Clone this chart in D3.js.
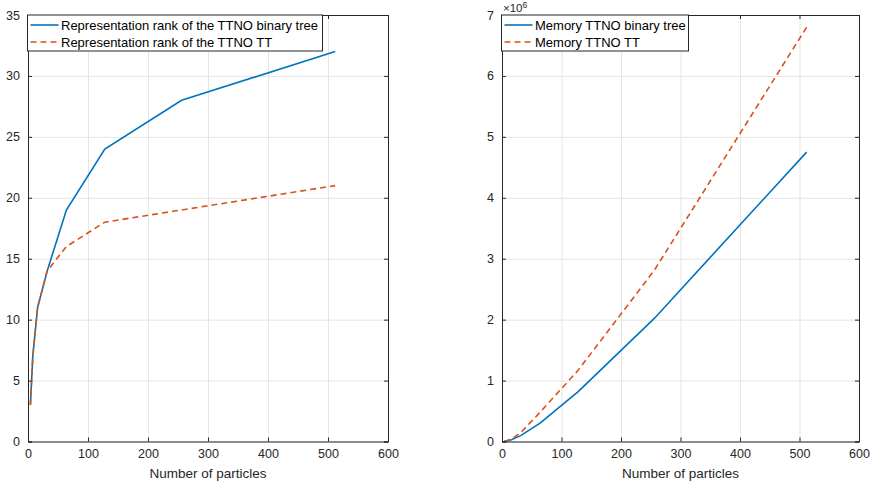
<!DOCTYPE html>
<html>
<head>
<meta charset="utf-8">
<script src="https://cdn.jsdelivr.net/npm/d3@7"></script>
<style>
  body { margin: 0; background: #fff; }
  svg { font-family: "Liberation Sans", Arial, sans-serif; }
</style>
</head>
<body>
<svg width="871" height="486"></svg>
<script>
// data
var particles = [4, 8, 16, 32, 64, 128, 256, 512];
var rankBinary = [3, 7, 11, 14, 19, 24, 28, 32];
var rankTT = [3, 7, 11, 14, 16, 18, 19, 21];
var memBinary = [0.003, 0.01, 0.03, 0.1, 0.3, 0.82, 2.02, 4.75];   // x 1e6
var memTT = [0.003, 0.012, 0.04, 0.15, 0.48, 1.17, 2.81, 6.8];    // x 1e6
var xTicks = [0, 100, 200, 300, 400, 500, 600];
var rankTicks = [0, 5, 10, 15, 20, 25, 30, 35];
var memTicks = [0, 1, 2, 3, 4, 5, 6, 7];
var legendLeft = ["Representation rank of the TTNO binary tree", "Representation rank of the TTNO TT"];
var legendRight = ["Memory TTNO binary tree", "Memory TTNO TT"];

var svg = d3.select("svg");
var blue = "#0072BD", orange = "#D95319", ink = "#262626";

function panel(left, right, yMax, yTicks, s1, s2, labels, exponent) {
  var top = 15, bottom = 441.5;
  var x = d3.scaleLinear().domain([0, 600]).range([left, right]);
  var y = d3.scaleLinear().domain([0, yMax]).range([bottom, top]);
  var g = svg.append("g");

  // grid
  g.append("g").attr("transform", "translate(0," + bottom + ")")
    .call(d3.axisBottom(x).tickValues(xTicks).tickSize(-(bottom - top)).tickFormat(""))
    .call(a => a.select(".domain").remove())
    .selectAll("line").attr("stroke", "#e5e5e5");
  g.append("g").attr("transform", "translate(" + left + ",0)")
    .call(d3.axisLeft(y).tickValues(yTicks).tickSize(-(right - left)).tickFormat(""))
    .call(a => a.select(".domain").remove())
    .selectAll("line").attr("stroke", "#e5e5e5");

  // lines
  var line = d3.line().x((d, i) => x(particles[i])).y(d => y(d));
  g.append("path").datum(s1).attr("d", line).attr("fill", "none")
    .attr("stroke", blue).attr("stroke-width", 1.6);
  g.append("path").datum(s2).attr("d", line).attr("fill", "none")
    .attr("stroke", orange).attr("stroke-width", 1.6).attr("stroke-dasharray", "6,4");

  // axes, ticks inward
  var ax = [
    [d3.axisBottom(x).tickValues(xTicks).tickSize(-4).tickPadding(8), "translate(0," + bottom + ")"],
    [d3.axisTop(x).tickValues(xTicks).tickSize(-4).tickFormat(""), "translate(0," + top + ")"],
    [d3.axisLeft(y).tickValues(yTicks).tickSize(-4).tickPadding(8).tickFormat(d3.format("d")), "translate(" + left + ",0)"],
    [d3.axisRight(y).tickValues(yTicks).tickSize(-4).tickFormat(""), "translate(" + right + ",0)"]
  ];
  ax.forEach(function(a) {
    var ag = g.append("g").attr("transform", a[1]).call(a[0]);
    ag.select(".domain").attr("stroke", ink);
    ag.selectAll("line").attr("stroke", ink);
    ag.selectAll("text").attr("fill", ink).style("font-size", "12.5px");
  });

  g.append("text").attr("x", (left + right) / 2).attr("y", 478)
    .attr("text-anchor", "middle").attr("fill", ink).style("font-size", "13.5px")
    .text("Number of particles");

  if (exponent) {
    var t = g.append("text").attr("x", left + 1).attr("y", 11.5).attr("fill", ink).style("font-size", "11.5px");
    t.append("tspan").text("\u00d710");
    t.append("tspan").attr("dy", -4).style("font-size", "8.5px").text("6");
  }

  // legend
  var lw = labels[0].length > 30 ? 295 : 187;
  var lg = g.append("g").attr("transform", "translate(" + (left - 0.5) + "," + top + ")");
  lg.append("rect").attr("width", lw).attr("height", 36)
    .attr("fill", "#fff").attr("stroke", ink).attr("stroke-width", 1);
  [[blue, null], [orange, "6,4"]].forEach(function(st, i) {
    var yy = 10 + i * 17;
    lg.append("line").attr("x1", 3).attr("x2", 31).attr("y1", yy).attr("y2", yy)
      .attr("stroke", st[0]).attr("stroke-width", 1.6).attr("stroke-dasharray", st[1]);
    lg.append("text").attr("x", 33.5).attr("y", yy + 4.5).attr("fill", "#000")
      .style("font-size", "13px").text(labels[i]);
  });
}

panel(28, 388, 35, rankTicks, rankBinary, rankTT, legendLeft, false);
panel(502, 859, 7, memTicks, memBinary, memTT, legendRight, true);
</script>
</body>
</html>
